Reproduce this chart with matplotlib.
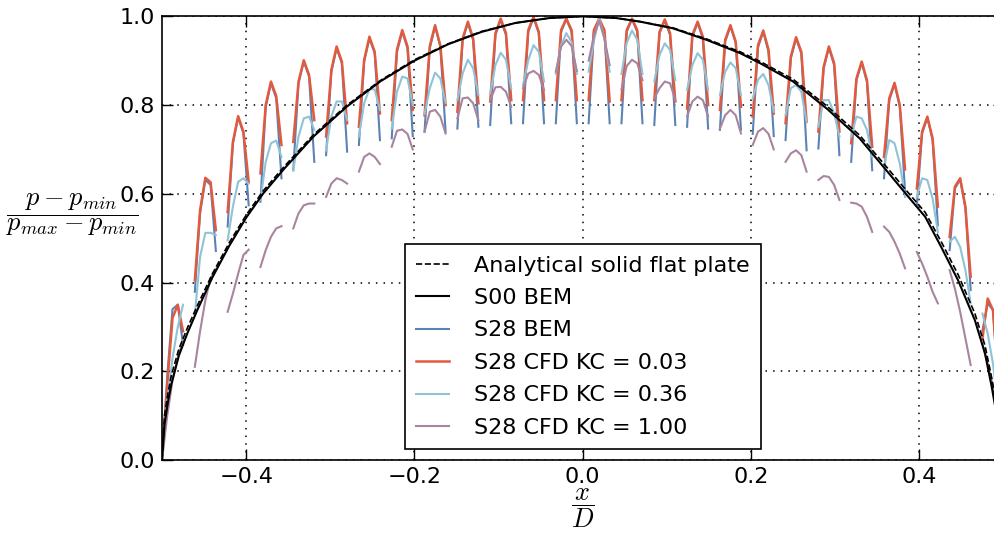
"""Pressure distribution over the plate: analytical, BEM and CFD (S28)."""

import matplotlib.pyplot as plt
import numpy as np

plt.switch_backend("Agg")
plt.rcParams["mathtext.fontset"] = "cm"

# plate segments between the holes (x/D of the left edge, common width)
seg_start = [-0.500, -0.461, -0.422, -0.383, -0.344, -0.305, -0.266, -0.227,
             -0.188, -0.149, -0.110, -0.071, -0.032, 0.007, 0.046, 0.085,
             0.124, 0.163, 0.202, 0.241, 0.280, 0.319, 0.358, 0.397, 0.436,
             0.475]
seg_width = 0.025

# S00 BEM (solid plate) and analytical solution
s00_x = [-0.500, -0.497, -0.493, -0.489, -0.480, -0.470, -0.458, -0.440,
         -0.420, -0.400, -0.380, -0.355, -0.320, -0.280, -0.240, -0.200,
         -0.160, -0.120, -0.080, -0.040, 0.000, 0.040, 0.068, 0.107, 0.147,
         0.187, 0.211, 0.250, 0.290, 0.329, 0.359, 0.387, 0.407, 0.426,
         0.446, 0.466, 0.478, 0.486, 0.492, 0.497, 0.500]
s00_y = [0.0, 0.08, 0.13, 0.17, 0.235, 0.285, 0.338, 0.412, 0.483, 0.546,
         0.600, 0.656, 0.729, 0.797, 0.854, 0.900, 0.937, 0.965, 0.985,
         0.996, 1.0, 0.996, 0.988, 0.973, 0.947, 0.917, 0.894, 0.853, 0.792,
         0.725, 0.657, 0.593, 0.548, 0.480, 0.405, 0.315, 0.240, 0.165,
         0.100, 0.060, 0.0]
ana_y = [0.0, 0.10, 0.15, 0.19, 0.25, 0.297, 0.348, 0.420, 0.490, 0.552,
         0.606, 0.661, 0.733, 0.800, 0.856, 0.902, 0.938, 0.966, 0.985,
         0.996, 1.0, 0.996, 0.988, 0.974, 0.949, 0.920, 0.898, 0.858, 0.798,
         0.732, 0.665, 0.602, 0.558, 0.492, 0.418, 0.330, 0.258, 0.185,
         0.120, 0.075, 0.0]

# five nodes per segment
s28_bem = [
    [0.00, 0.19, 0.34, 0.35, 0.26], [0.379, 0.556, 0.631, 0.620, 0.471],
    [0.526, 0.713, 0.772, 0.736, 0.574], [0.582, 0.796, 0.849, 0.815, 0.635],
    [0.653, 0.849, 0.898, 0.864, 0.672], [0.687, 0.875, 0.928, 0.894, 0.695],
    [0.710, 0.898, 0.950, 0.917, 0.721], [0.725, 0.920, 0.965, 0.928, 0.730],
    [0.740, 0.928, 0.977, 0.932, 0.740], [0.747, 0.946, 0.985, 0.946, 0.751],
    [0.755, 0.958, 0.992, 0.958, 0.759], [0.759, 0.965, 0.996, 0.962, 0.759],
    [0.759, 0.965, 0.993, 0.965, 0.759], [0.759, 0.965, 0.993, 0.965, 0.759],
    [0.759, 0.965, 0.993, 0.965, 0.759], [0.755, 0.962, 0.990, 0.958, 0.755],
    [0.751, 0.954, 0.985, 0.950, 0.747], [0.744, 0.943, 0.977, 0.940, 0.744],
    [0.735, 0.930, 0.965, 0.920, 0.730], [0.721, 0.905, 0.950, 0.916, 0.698],
    [0.702, 0.882, 0.929, 0.890, 0.687], [0.672, 0.856, 0.895, 0.852, 0.653],
    [0.635, 0.811, 0.847, 0.796, 0.605], [0.574, 0.736, 0.771, 0.721, 0.529],
    [0.473, 0.612, 0.632, 0.567, 0.383], [0.292, 0.353, 0.338, 0.18, 0.00],
]
cfd_003 = [
    [0.00, 0.17, 0.32, 0.35, 0.29], [0.405, 0.563, 0.636, 0.626, 0.518],
    [0.559, 0.717, 0.775, 0.740, 0.627], [0.646, 0.800, 0.853, 0.820, 0.710],
    [0.717, 0.853, 0.901, 0.868, 0.766], [0.729, 0.879, 0.932, 0.898, 0.759],
    [0.751, 0.902, 0.954, 0.920, 0.781], [0.766, 0.925, 0.969, 0.932, 0.789],
    [0.777, 0.933, 0.980, 0.934, 0.800], [0.785, 0.950, 0.988, 0.950, 0.804],
    [0.808, 0.962, 0.995, 0.962, 0.811], [0.811, 0.969, 0.999, 0.965, 0.811],
    [0.811, 0.969, 0.995, 0.969, 0.811], [0.811, 0.969, 0.995, 0.969, 0.808],
    [0.811, 0.969, 0.995, 0.969, 0.811], [0.811, 0.965, 0.993, 0.962, 0.808],
    [0.792, 0.958, 0.988, 0.954, 0.800], [0.789, 0.947, 0.980, 0.943, 0.796],
    [0.774, 0.935, 0.968, 0.925, 0.781], [0.759, 0.909, 0.953, 0.920, 0.762],
    [0.740, 0.886, 0.932, 0.894, 0.740], [0.714, 0.860, 0.898, 0.856, 0.706],
    [0.683, 0.815, 0.850, 0.800, 0.655], [0.612, 0.740, 0.774, 0.725, 0.571],
    [0.503, 0.616, 0.635, 0.571, 0.413], [0.274, 0.364, 0.338, 0.17, 0.00],
]
cfd_036 = [
    [0.00, 0.13, 0.23, 0.30, 0.35], [0.326, 0.458, 0.512, 0.512, 0.507],
    [0.495, 0.571, 0.627, 0.635, 0.623], [0.586, 0.672, 0.714, 0.720, 0.683],
    [0.653, 0.729, 0.770, 0.774, 0.744], [0.698, 0.774, 0.808, 0.808, 0.766],
    [0.729, 0.804, 0.836, 0.835, 0.789], [0.747, 0.830, 0.864, 0.860, 0.800],
    [0.780, 0.838, 0.873, 0.860, 0.805], [0.811, 0.871, 0.902, 0.883, 0.823],
    [0.826, 0.890, 0.918, 0.902, 0.838], [0.845, 0.901, 0.935, 0.920, 0.853],
    [0.870, 0.935, 0.962, 0.942, 0.870], [0.875, 0.945, 0.995, 0.950, 0.875],
    [0.870, 0.940, 0.968, 0.947, 0.870], [0.853, 0.913, 0.939, 0.924, 0.856],
    [0.834, 0.890, 0.917, 0.902, 0.834], [0.823, 0.875, 0.896, 0.883, 0.823],
    [0.815, 0.857, 0.870, 0.845, 0.785], [0.777, 0.838, 0.845, 0.830, 0.762],
    [0.751, 0.811, 0.811, 0.781, 0.729], [0.729, 0.774, 0.770, 0.744, 0.683],
    [0.661, 0.721, 0.714, 0.668, 0.593], [0.593, 0.635, 0.631, 0.589, 0.514],
    [0.492, 0.503, 0.480, 0.428, 0.353], [0.330, 0.285, 0.217, 0.12, 0.00],
]
cfd_100 = [
    [0.00, 0.10, 0.18, 0.23, 0.27], [0.210, 0.290, 0.360, 0.410, 0.430],
    [0.334, 0.375, 0.420, 0.462, 0.474], [0.435, 0.473, 0.503, 0.522, 0.527],
    [0.522, 0.556, 0.574, 0.578, 0.578], [0.593, 0.623, 0.635, 0.631, 0.623],
    [0.650, 0.683, 0.691, 0.683, 0.667], [0.706, 0.742, 0.745, 0.735, 0.700],
    [0.740, 0.785, 0.789, 0.774, 0.736], [0.770, 0.815, 0.817, 0.804, 0.766],
    [0.811, 0.840, 0.841, 0.830, 0.796], [0.838, 0.871, 0.877, 0.868, 0.834],
    [0.875, 0.932, 0.947, 0.933, 0.877], [0.900, 0.955, 0.990, 0.950, 0.890],
    [0.835, 0.888, 0.902, 0.894, 0.856], [0.815, 0.838, 0.853, 0.849, 0.811],
    [0.774, 0.808, 0.819, 0.811, 0.774], [0.747, 0.777, 0.789, 0.777, 0.736],
    [0.710, 0.740, 0.748, 0.735, 0.700], [0.672, 0.691, 0.698, 0.687, 0.650],
    [0.631, 0.640, 0.638, 0.620, 0.586], [0.580, 0.578, 0.571, 0.548, 0.514],
    [0.526, 0.514, 0.492, 0.465, 0.432], [0.469, 0.443, 0.413, 0.379, 0.353],
    [0.428, 0.386, 0.334, 0.274, 0.214], [0.262, 0.217, 0.165, 0.09, 0.00],
]

xticks = [-0.4, -0.2, 0.0, 0.2, 0.4]
yticks = [0.0, 0.2, 0.4, 0.6, 0.8, 1.0]


def segmented(values):
    """Join the per-segment nodes into one NaN-separated line."""
    xs, ys = [], []
    for x0, vals in zip(seg_start, values):
        xs.extend(np.linspace(x0, x0 + seg_width, len(vals)))
        ys.extend(vals)
        xs.append(np.nan)
        ys.append(np.nan)
    return xs, ys


fig = plt.figure(figsize=(9.95, 5.39), dpi=100)
# right edge of the axes sits just past the figure (cropped original)
ax = fig.add_axes([162 / 995, 79 / 539, 841.5 / 995, 443.7 / 539])

ax.plot(s00_x, ana_y, "--", color="k", lw=1.2, zorder=4,
        label="Analytical solid flat plate")
ax.plot(s00_x, s00_y, "-", color="k", lw=1.5, zorder=4, label="S00 BEM")
ax.plot(*segmented(s28_bem), color="#5a82b4", lw=1.5, label="S28 BEM")
ax.plot(*segmented(cfd_003), color="#e25a3e", lw=1.8, label="S28 CFD KC = 0.03")
ax.plot(*segmented(cfd_036), color="#90c3d6", lw=1.5, label="S28 CFD KC = 0.36")
ax.plot(*segmented(cfd_100), color="#a8849f", lw=1.5, label="S28 CFD KC = 1.00")

ax.set_xlim(-0.5, 0.5)
ax.set_ylim(0.0, 1.0)
ax.set_xticks(xticks)
ax.set_yticks(yticks)
ax.grid(True, color="k", linestyle=(0, (1, 4)), linewidth=1.1)
ax.tick_params(direction="in", top=True, right=True, length=8, width=1,
               labelsize=16, pad=5)
for sp in ax.spines.values():
    sp.set_linewidth(1.2)

ax.set_xlabel(r"$\dfrac{x}{D}$", fontsize=19, va="center")
ax.xaxis.set_label_coords(0.5, -0.11)
ax.set_ylabel(r"$\dfrac{p-p_{min}}{p_{max}-p_{min}}$", fontsize=19,
              rotation=0, ha="center", va="center")
ax.yaxis.set_label_coords(-0.106, 0.552)

leg = ax.legend(loc="lower center", fontsize=16, handlelength=1.5,
                handletextpad=1.1, borderpad=0.5, labelspacing=0.56,
                fancybox=False, framealpha=1)
leg.get_frame().set_edgecolor("k")
leg.get_frame().set_linewidth(1.2)

fig.savefig("out.png", dpi=100)
plt.close(fig)
